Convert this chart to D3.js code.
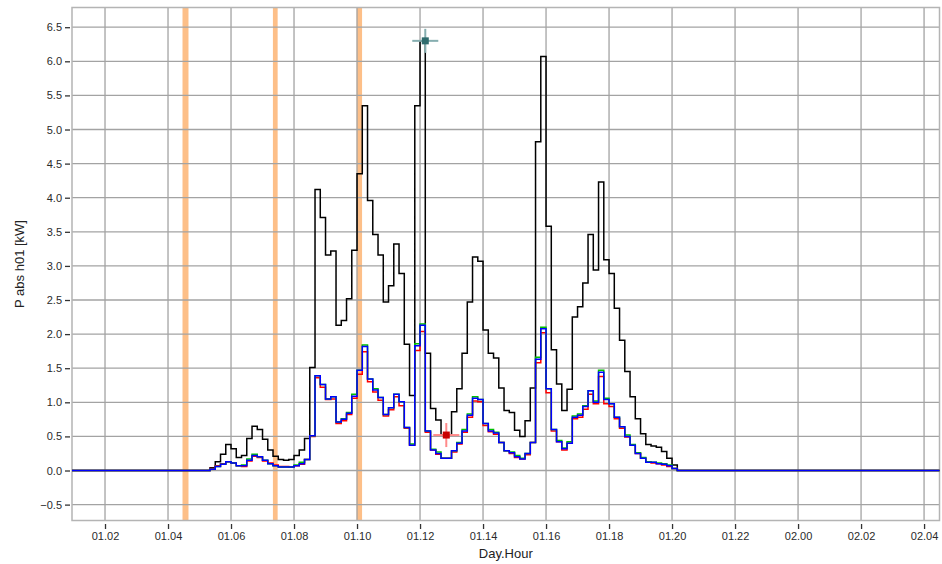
<!DOCTYPE html>
<html>
<head>
<meta charset="utf-8">
<script src="https://cdn.jsdelivr.net/npm/d3@7"></script>
<style>
  body { margin: 0; background: #fff; }
  svg { display: block; font-family: "Liberation Sans", Arial, sans-serif; }
</style>
</head>
<body>
<svg width="942" height="564"></svg>
<script>
// values are 10 minute steps, first step starts at hour 32/6 (01.05:20)
const firstStep = 32;
const stepsPerHour = 6;

const blackValues = [0.04,0.13,0.24,0.38,0.32,0.19,0.22,0.47,0.65,0.6,0.46,0.3,0.21,0.16,0.15,0.16,0.22,0.3,0.47,1.51,
  4.12,3.71,3.16,3.22,2.13,2.2,2.52,3.23,4.35,5.35,3.96,3.46,3.16,2.47,2.71,3.32,2.89,1.85,1.1,5.35,
  6.3,1.72,0.91,0.74,0.52,0.52,0.86,1.2,1.72,2.47,3.13,3.07,2.06,1.72,1.65,1.21,0.88,0.85,0.59,0.5,
  0.73,1.21,4.82,6.07,3.58,1.77,1.27,0.88,1.19,2.25,2.4,2.75,3.46,2.94,4.23,3.09,2.89,2.38,1.91,1.45,
  1.08,0.76,0.54,0.38,0.36,0.34,0.28,0.18,0.08];

const redValues = [0.03,0.07,0.1,0.13,0.11,0.07,0.06,0.14,0.21,0.19,0.14,0.11,0.08,0.06,0.06,0.05,0.07,0.09,0.16,0.5,
  1.36,1.22,1.04,1.05,0.69,0.73,0.82,1.06,1.41,1.74,1.3,1.15,1.03,0.8,0.89,1.08,0.95,0.62,0.37,1.76,
  2.04,0.56,0.3,0.24,0.18,0.18,0.27,0.39,0.56,0.78,1.02,1.01,0.66,0.57,0.53,0.41,0.29,0.25,0.19,0.17,
  0.23,0.41,1.58,2.02,1.14,0.58,0.42,0.3,0.4,0.76,0.78,0.9,1.12,0.98,1.38,0.98,0.94,0.76,0.62,0.49,
  0.37,0.25,0.18,0.12,0.11,0.1,0.08,0.06,0.03];

const greenValues = [0.02,0.06,0.09,0.13,0.11,0.07,0.08,0.17,0.24,0.2,0.15,0.1,0.07,0.05,0.05,0.05,0.08,0.12,0.16,0.51,
  1.39,1.26,1.05,1.08,0.71,0.76,0.85,1.12,1.47,1.84,1.34,1.2,1.07,0.82,0.92,1.12,1.01,0.63,0.39,1.86,
  2.15,0.58,0.31,0.27,0.18,0.18,0.29,0.41,0.6,0.83,1.08,1.04,0.69,0.6,0.56,0.41,0.29,0.27,0.22,0.18,
  0.25,0.41,1.66,2.1,1.2,0.6,0.44,0.33,0.42,0.8,0.83,0.95,1.17,1.02,1.47,1.06,0.98,0.78,0.64,0.52,
  0.38,0.26,0.19,0.13,0.12,0.11,0.1,0.08,0.03];

const blueValues = [0.02,0.06,0.09,0.13,0.11,0.07,0.07,0.15,0.22,0.2,0.15,0.1,0.07,0.05,0.05,0.05,0.07,0.1,0.16,0.51,
  1.39,1.26,1.05,1.08,0.71,0.75,0.84,1.09,1.47,1.82,1.34,1.18,1.07,0.82,0.92,1.12,1.01,0.63,0.37,1.83,
  2.13,0.58,0.3,0.25,0.18,0.18,0.29,0.4,0.58,0.81,1.06,1.04,0.69,0.58,0.55,0.41,0.29,0.26,0.2,0.17,
  0.25,0.41,1.63,2.08,1.2,0.6,0.42,0.32,0.4,0.78,0.81,0.94,1.17,1.0,1.44,1.04,0.98,0.78,0.64,0.5,
  0.37,0.25,0.18,0.12,0.12,0.1,0.09,0.07,0.03];

// orange marked intervals (hours)
const bandStarts = [4.46, 7.33, 9.99];
const bandEnds = [4.65, 7.48, 10.16];

// cursors
const markerHours = [73 / 6, 77 / 6];
const markerValues = [6.3, 0.52];
const markerFills = ['#2f6b6d', '#c80000'];
const markerCross = ['#86aeb0', '#ff8a8a'];

const xTickHours = [2, 4, 6, 8, 10, 12, 14, 16, 18, 20, 22, 24, 26, 28];
const xTickLabels = ['01.02','01.04','01.06','01.08','01.10','01.12','01.14','01.16','01.18','01.20','01.22','02.00','02.02','02.04'];
const yTicks = [-0.5, 0, 0.5, 1, 1.5, 2, 2.5, 3, 3.5, 4, 4.5, 5, 5.5, 6, 6.5];

const svg = d3.select('svg');
const width = +svg.attr('width');
const height = +svg.attr('height');

const margin = {top: 7.5, right: 2.5, bottom: 43.5, left: 72};
const innerWidth = width - margin.left - margin.right;
const innerHeight = height - margin.top - margin.bottom;

const xScale = d3.scaleLinear()
    .domain([0.952, 28.49])
    .range([0, innerWidth]);

const yScale = d3.scaleLinear()
    .domain([-0.733, 6.789])
    .range([innerHeight, 0]);

const g = svg.append('g')
    .attr('transform', `translate(${margin.left},${margin.top})`);

// orange bands
g.selectAll('.band').data(bandStarts)
  .enter().append('rect')
    .attr('class', 'band')
    .attr('x', (d, i) => xScale(d))
    .attr('width', (d, i) => xScale(bandEnds[i]) - xScale(d))
    .attr('y', 0)
    .attr('height', innerHeight)
    .attr('fill', '#fdbf88');

// grid
g.append('g').selectAll('line').data(yTicks)
  .enter().append('line')
    .attr('x1', 0).attr('x2', innerWidth)
    .attr('y1', d => yScale(d)).attr('y2', d => yScale(d))
    .attr('stroke', '#a3a3a3').attr('stroke-width', 1.3);

g.append('g').selectAll('line').data(xTickHours)
  .enter().append('line')
    .attr('y1', 0).attr('y2', innerHeight)
    .attr('x1', d => xScale(d)).attr('x2', d => xScale(d))
    .attr('stroke', '#a3a3a3').attr('stroke-width', 1.3);

// axes (ticks sit a little outside the frame)
const yAxis = d3.axisLeft(yScale)
    .tickValues(yTicks)
    .tickFormat(d3.format('.1f'))
    .tickSize(5)
    .tickPadding(3);
const yAxisG = g.append('g')
    .attr('transform', 'translate(-2,0)')
    .call(yAxis);
yAxisG.select('.domain').remove();

const xAxis = d3.axisBottom(xScale)
    .tickValues(xTickHours)
    .tickFormat((d, i) => xTickLabels[i])
    .tickSize(5)
    .tickPadding(3);
const xAxisG = g.append('g')
    .attr('transform', `translate(0,${innerHeight + 3.5})`)
    .call(xAxis);
xAxisG.select('.domain').remove();

svg.selectAll('.tick line').attr('stroke', '#333').attr('stroke-width', 1.3);
svg.selectAll('.tick text')
    .attr('fill', '#2a2a2a')
    .style('font-size', '11px')
    .style('font-family', '"Liberation Sans", Arial, sans-serif');

// frame
g.append('rect')
    .attr('width', innerWidth)
    .attr('height', innerHeight)
    .attr('fill', 'none')
    .attr('stroke', '#b4b4b4')
    .attr('stroke-width', 1.5);

// series
const toPoints = values => {
    const pts = [{t: xScale.domain()[0], v: 0}];
    values.forEach((v, i) => pts.push({t: (firstStep + i) / stepsPerHour, v: v}));
    pts.push({t: (firstStep + values.length) / stepsPerHour, v: 0});
    pts.push({t: xScale.domain()[1], v: 0});
    return pts;
};

const line = d3.line()
    .x(d => xScale(d.t))
    .y(d => yScale(d.v))
    .curve(d3.curveStepAfter);

const series = [
    {values: blackValues, color: '#000000'},
    {values: redValues, color: '#ff0000'},
    {values: greenValues, color: '#00c000'},
    {values: blueValues, color: '#0000ff'}
];

g.append('g').selectAll('path').data(series)
  .enter().append('path')
    .attr('d', d => line(toPoints(d.values)))
    .attr('fill', 'none')
    .attr('stroke', d => d.color)
    .attr('stroke-width', 1.5);

// cursor markers
const mk = g.append('g').selectAll('g').data(markerHours)
  .enter().append('g')
    .attr('transform', (d, i) => `translate(${xScale(d)},${yScale(markerValues[i])})`);
mk.append('line')
    .attr('x1', -13).attr('x2', 13)
    .attr('stroke', (d, i) => markerCross[i]).attr('stroke-width', 2);
mk.append('line')
    .attr('y1', -12).attr('y2', 12)
    .attr('stroke', (d, i) => markerCross[i]).attr('stroke-width', 2);
mk.append('rect')
    .attr('x', -3.5).attr('y', -3.5)
    .attr('width', 7).attr('height', 7)
    .attr('fill', (d, i) => markerFills[i]);

// axis titles
svg.append('text')
    .attr('transform', `translate(24,${margin.top + innerHeight / 2}) rotate(-90)`)
    .attr('text-anchor', 'middle')
    .attr('fill', '#222')
    .style('font-size', '13px')
    .text('P abs h01 [kW]');

svg.append('text')
    .attr('x', margin.left + innerWidth / 2)
    .attr('y', 558)
    .attr('text-anchor', 'middle')
    .attr('fill', '#222')
    .style('font-size', '13px')
    .text('Day.Hour');
</script>
</body>
</html>
